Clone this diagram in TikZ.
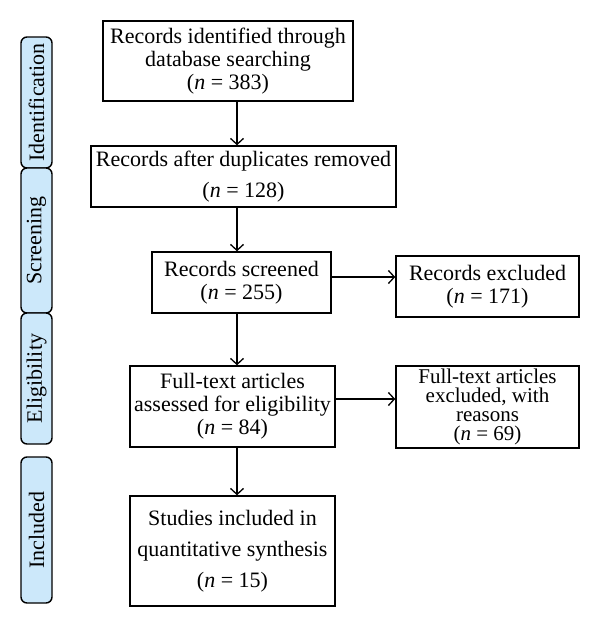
\documentclass[tikz,border=0pt]{standalone}
\usepackage{fontspec}
\setmainfont{Liberation Serif}
\usetikzlibrary{arrows.meta}

\definecolor{tabblue}{RGB}{204,232,250}
\tikzset{
  box/.style={draw, line width=1.4pt, inner sep=1pt, align=center},
  phase/.style={draw, line width=1.4pt, fill=tabblue, rounded corners=6pt, rotate=90, minimum height=31pt, inner sep=0pt},
}

\begin{document}
\begin{tikzpicture} [x=1pt, y=-1pt, font=\fontsize{22}{23}\selectfont, ->, >={Straight Barb[length=6pt,width=13pt]}, line width=1.3pt]

\useasboundingbox (0,0) rectangle (600,627);

% phase tabs
\node[phase, minimum width=131pt]	(identification)	at (36.5,102.5)	{Identification};
\node[phase, minimum width=145pt]	(screening)	at (36.5,240.5)	{Screening};
\node[phase, minimum width=131pt]	(eligibility)	at (36.5,378.5)	{Eligibility};
\node[phase, minimum width=146pt]	(included)	at (36.5,530)	{Included};

% flow boxes
\node[box, minimum width=250pt, minimum height=80pt]	(identified)	at (228,61)	{Records identified through\\ database searching\\ (\textit{n} = 383)};
\node[box, minimum width=305pt, minimum height=61pt]	(duplicates)	at (243.5,176.5)	{Records after duplicates removed\\[8pt] (\textit{n} = 128)};
\node[box, minimum width=179pt, minimum height=61pt]	(screened)	at (241.5,282.5)	{Records screened\\ (\textit{n} = 255)};
\node[box, minimum width=183pt, minimum height=61pt]	(excluded)	at (487.5,286.5)	{Records excluded\\ (\textit{n} = 171)};
\node[box, minimum width=205pt, minimum height=81pt]	(fulltext)	at (232.5,406.5)	{Full-text articles\\ assessed for eligibility\\ (\textit{n} = 84)};
\node[box, minimum width=183pt, minimum height=82pt, font=\fontsize{21}{19}\selectfont]	(fulltext_excluded)	at (487.5,407)	{Full-text articles\\ excluded, with\\ reasons\\ (\textit{n} = 69)};
\node[box, minimum width=205pt, minimum height=110pt]	(studies)	at (232.5,551)	{Studies included in\\[8pt] quantitative synthesis\\[8pt] (\textit{n} = 15)};

\coordinate (spine) at (237,0);

\path	(identified.south -| spine)	edge	(duplicates.north -| spine)
	(duplicates.south -| spine)	edge	(screened.north -| spine)
	(screened.south -| spine)	edge	(fulltext.north -| spine)
	(fulltext.south -| spine)	edge	(studies.north -| spine)
	(screened.east |- 0,277)	edge	(excluded.west |- 0,277)
	(fulltext.east |- 0,399)	edge	(fulltext_excluded.west |- 0,399)
;

\end{tikzpicture}
\end{document}
